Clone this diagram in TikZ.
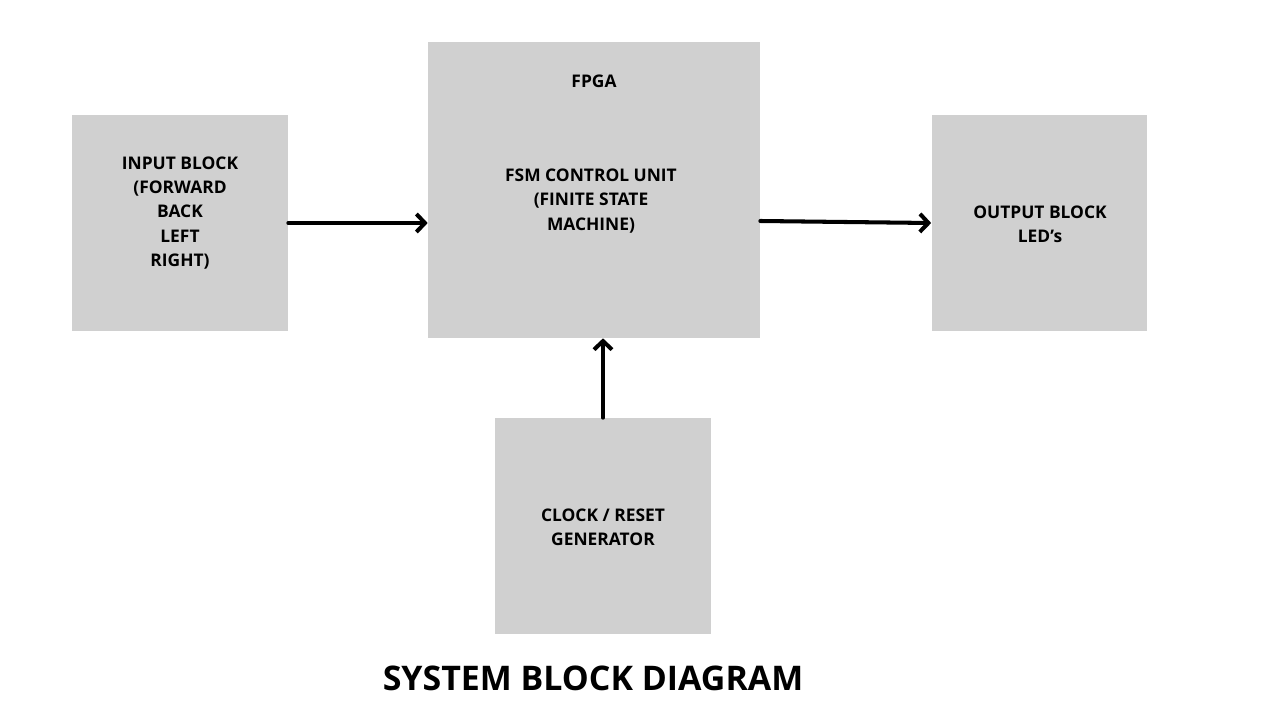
\documentclass[tikz,border=0pt]{standalone}
\usepackage{fontspec}
\setmainfont{Open Sans}
\usepackage{xcolor}
\usetikzlibrary{arrows.meta,positioning}
\definecolor{blockgray}{HTML}{D0D0D0}
\tikzset{
  Block/.style={
    fill=blockgray, draw=none,
    minimum width=4.32cm, minimum height=4.32cm,
    inner sep=0pt
  },
  BlockText/.style={
    font=\fontsize{9.9}{13.7}\selectfont\bfseries,
    align=center, inner sep=0pt
  },
  Flow/.style={
    line width=2.3pt, line cap=round,
    -{Straight Barb[length=1.7mm,width=3.6mm,line width=2.3pt]}
  }
}
\begin{document}
\begin{tikzpicture}[x=0.02cm, y=-0.02cm]
  \useasboundingbox (0,0) rectangle (1280,720);

  % blocks
  \node[Block] (inp) at (180,223) {};
  \node[Block, minimum width=6.64cm, minimum height=5.92cm] (fpga) at (594,190) {};
  \node[Block] (outb) at (1039.5,223) {};
  \node[Block] (clk) at (603,526) {};

  % texts
  \node[BlockText] (inptxt) at (180,213) {INPUT BLOCK\\(FORWARD\\BACK\\LEFT\\RIGHT)};
  \node[BlockText] (fpgatxt) at (594,81) {FPGA};
  \node[BlockText] (fsmtxt) at (591,201) {FSM CONTROL UNIT\\(FINITE STATE\\MACHINE)};
  \node[BlockText] (outtxt) at (1040,224) {OUTPUT BLOCK\\LED’s};
  \node[BlockText] (clktxt) at (603,527) {CLOCK / RESET\\GENERATOR};

  \node[font=\fontsize{19.3}{23}\selectfont\bfseries, inner sep=0pt] (title) at (593,678) {SYSTEM BLOCK DIAGRAM};

  % connectors
  \draw[Flow] (inp.east) -- (inp.east -| fpga.west);
  \draw[Flow] ([yshift=-0.62cm]fpga.east) -- (outb.west);
  \draw[Flow] (clk.north) -- (clk.north |- fpga.south);
\end{tikzpicture}
\end{document}
